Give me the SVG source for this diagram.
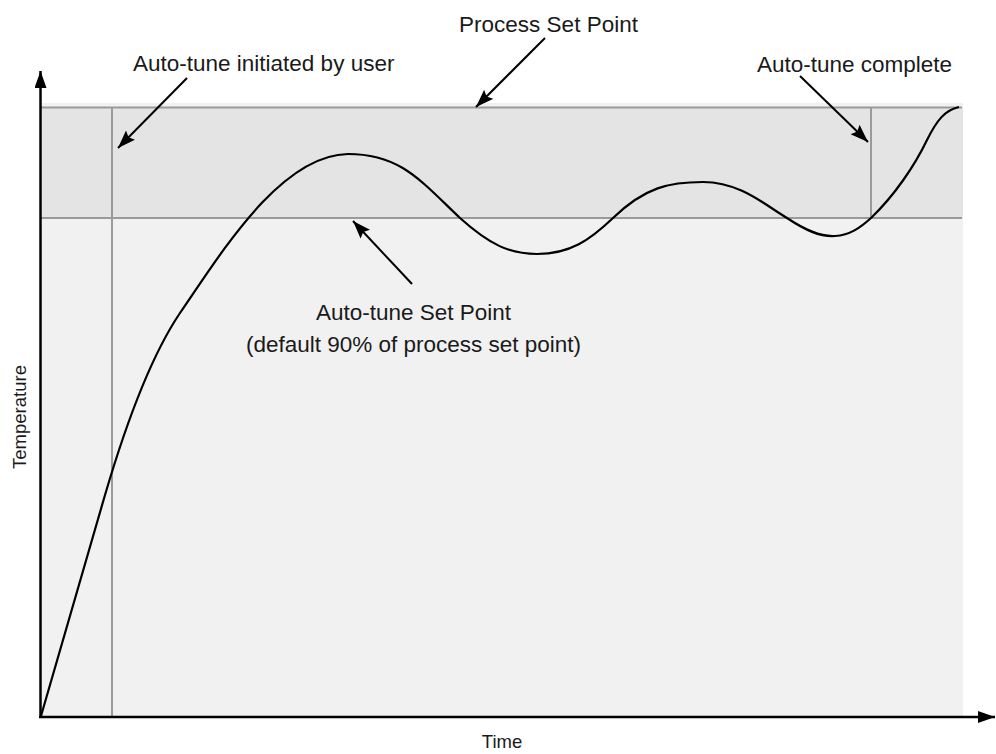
<svg xmlns="http://www.w3.org/2000/svg" width="996" height="754" viewBox="0 0 996 754">
<style>
.lbl{font-family:"Liberation Sans",Arial,sans-serif;font-size:22.5px;fill:#1a1a1a}
.ax{font-family:"Liberation Sans",Arial,sans-serif;font-size:18.5px;fill:#1a1a1a}
.grid{stroke:#9a9a9a;stroke-width:2;fill:none}
.arr{stroke:#000;stroke-width:2;fill:none;marker-end:url(#ah)}
.axis{stroke:#000;stroke-width:2.5;fill:none}
</style>
<defs>
<marker id="ah" markerUnits="userSpaceOnUse" markerWidth="20" markerHeight="14" refX="18" refY="6.5" orient="auto">
<path d="M0,0 L18,6.5 L0,13 L3,6.5 z" fill="#000"/>
</marker>
<marker id="axh" markerUnits="userSpaceOnUse" markerWidth="18" markerHeight="14" refX="17" refY="6" orient="auto">
<path d="M0,0 L17,6 L0,12 z" fill="#000"/>
</marker>
</defs>
<g id="background">
<rect x="41" y="103" width="922" height="614" fill="#f1f1f1"/>
<rect x="41" y="107" width="922" height="111" fill="#e4e4e4"/>
</g>
<g id="gridlines">
<line class="grid" x1="41" y1="107.5" x2="962" y2="107.5"/>
<line class="grid" x1="41" y1="218" x2="962" y2="218"/>
<line class="grid" x1="112" y1="107" x2="112" y2="717"/>
<line class="grid" x1="871" y1="107" x2="871" y2="218"/>
</g>
<g id="curve">
<path d="M41,716 L105,495 C130,410 155,350 180,313 C220,255 280,155 348,154 C400,154 420,180 460,218 C490,245 510,254 537,254 C570,254 590,240 613,218 C645,187 670,182 703,182 C740,182 765,205 787,218 C805,230 820,237 835,236 C850,235 860,228 871,218 C895,195 915,165 927,140 C937,120 945,110 959,107" fill="none" stroke="#000" stroke-width="2.2"/>
</g>
<g id="axes">
<line class="axis" x1="40.5" y1="718" x2="40.5" y2="71" marker-end="url(#axh)"/>
<line class="axis" x1="39" y1="717" x2="995" y2="717" marker-end="url(#axh)"/>
</g>
<g id="connectors">
<line class="arr" x1="187" y1="78" x2="118" y2="148"/>
<line class="arr" x1="545" y1="38" x2="476" y2="107"/>
<line class="arr" x1="800" y1="76" x2="868" y2="142"/>
<line class="arr" x1="412" y1="284" x2="353" y2="221"/>
</g>
<g id="label-process-set-point">
<text class="lbl" x="548.5" y="32" text-anchor="middle">Process Set Point</text>
</g>
<g id="label-autotune-initiated">
<text class="lbl" x="133" y="71">Auto-tune initiated by user</text>
</g>
<g id="label-autotune-complete">
<text class="lbl" x="952" y="72" text-anchor="end">Auto-tune complete</text>
</g>
<g id="label-autotune-set-point">
<text class="lbl" x="413.5" y="320" text-anchor="middle">Auto-tune Set Point</text>
<text class="lbl" x="413.5" y="352" text-anchor="middle">(default 90% of process set point)</text>
</g>
<g id="label-temperature">
<text class="ax" transform="translate(26,417) rotate(-90)" text-anchor="middle">Temperature</text>
</g>
<g id="label-time">
<text class="ax" x="502" y="748" text-anchor="middle">Time</text>
</g>
</svg>
